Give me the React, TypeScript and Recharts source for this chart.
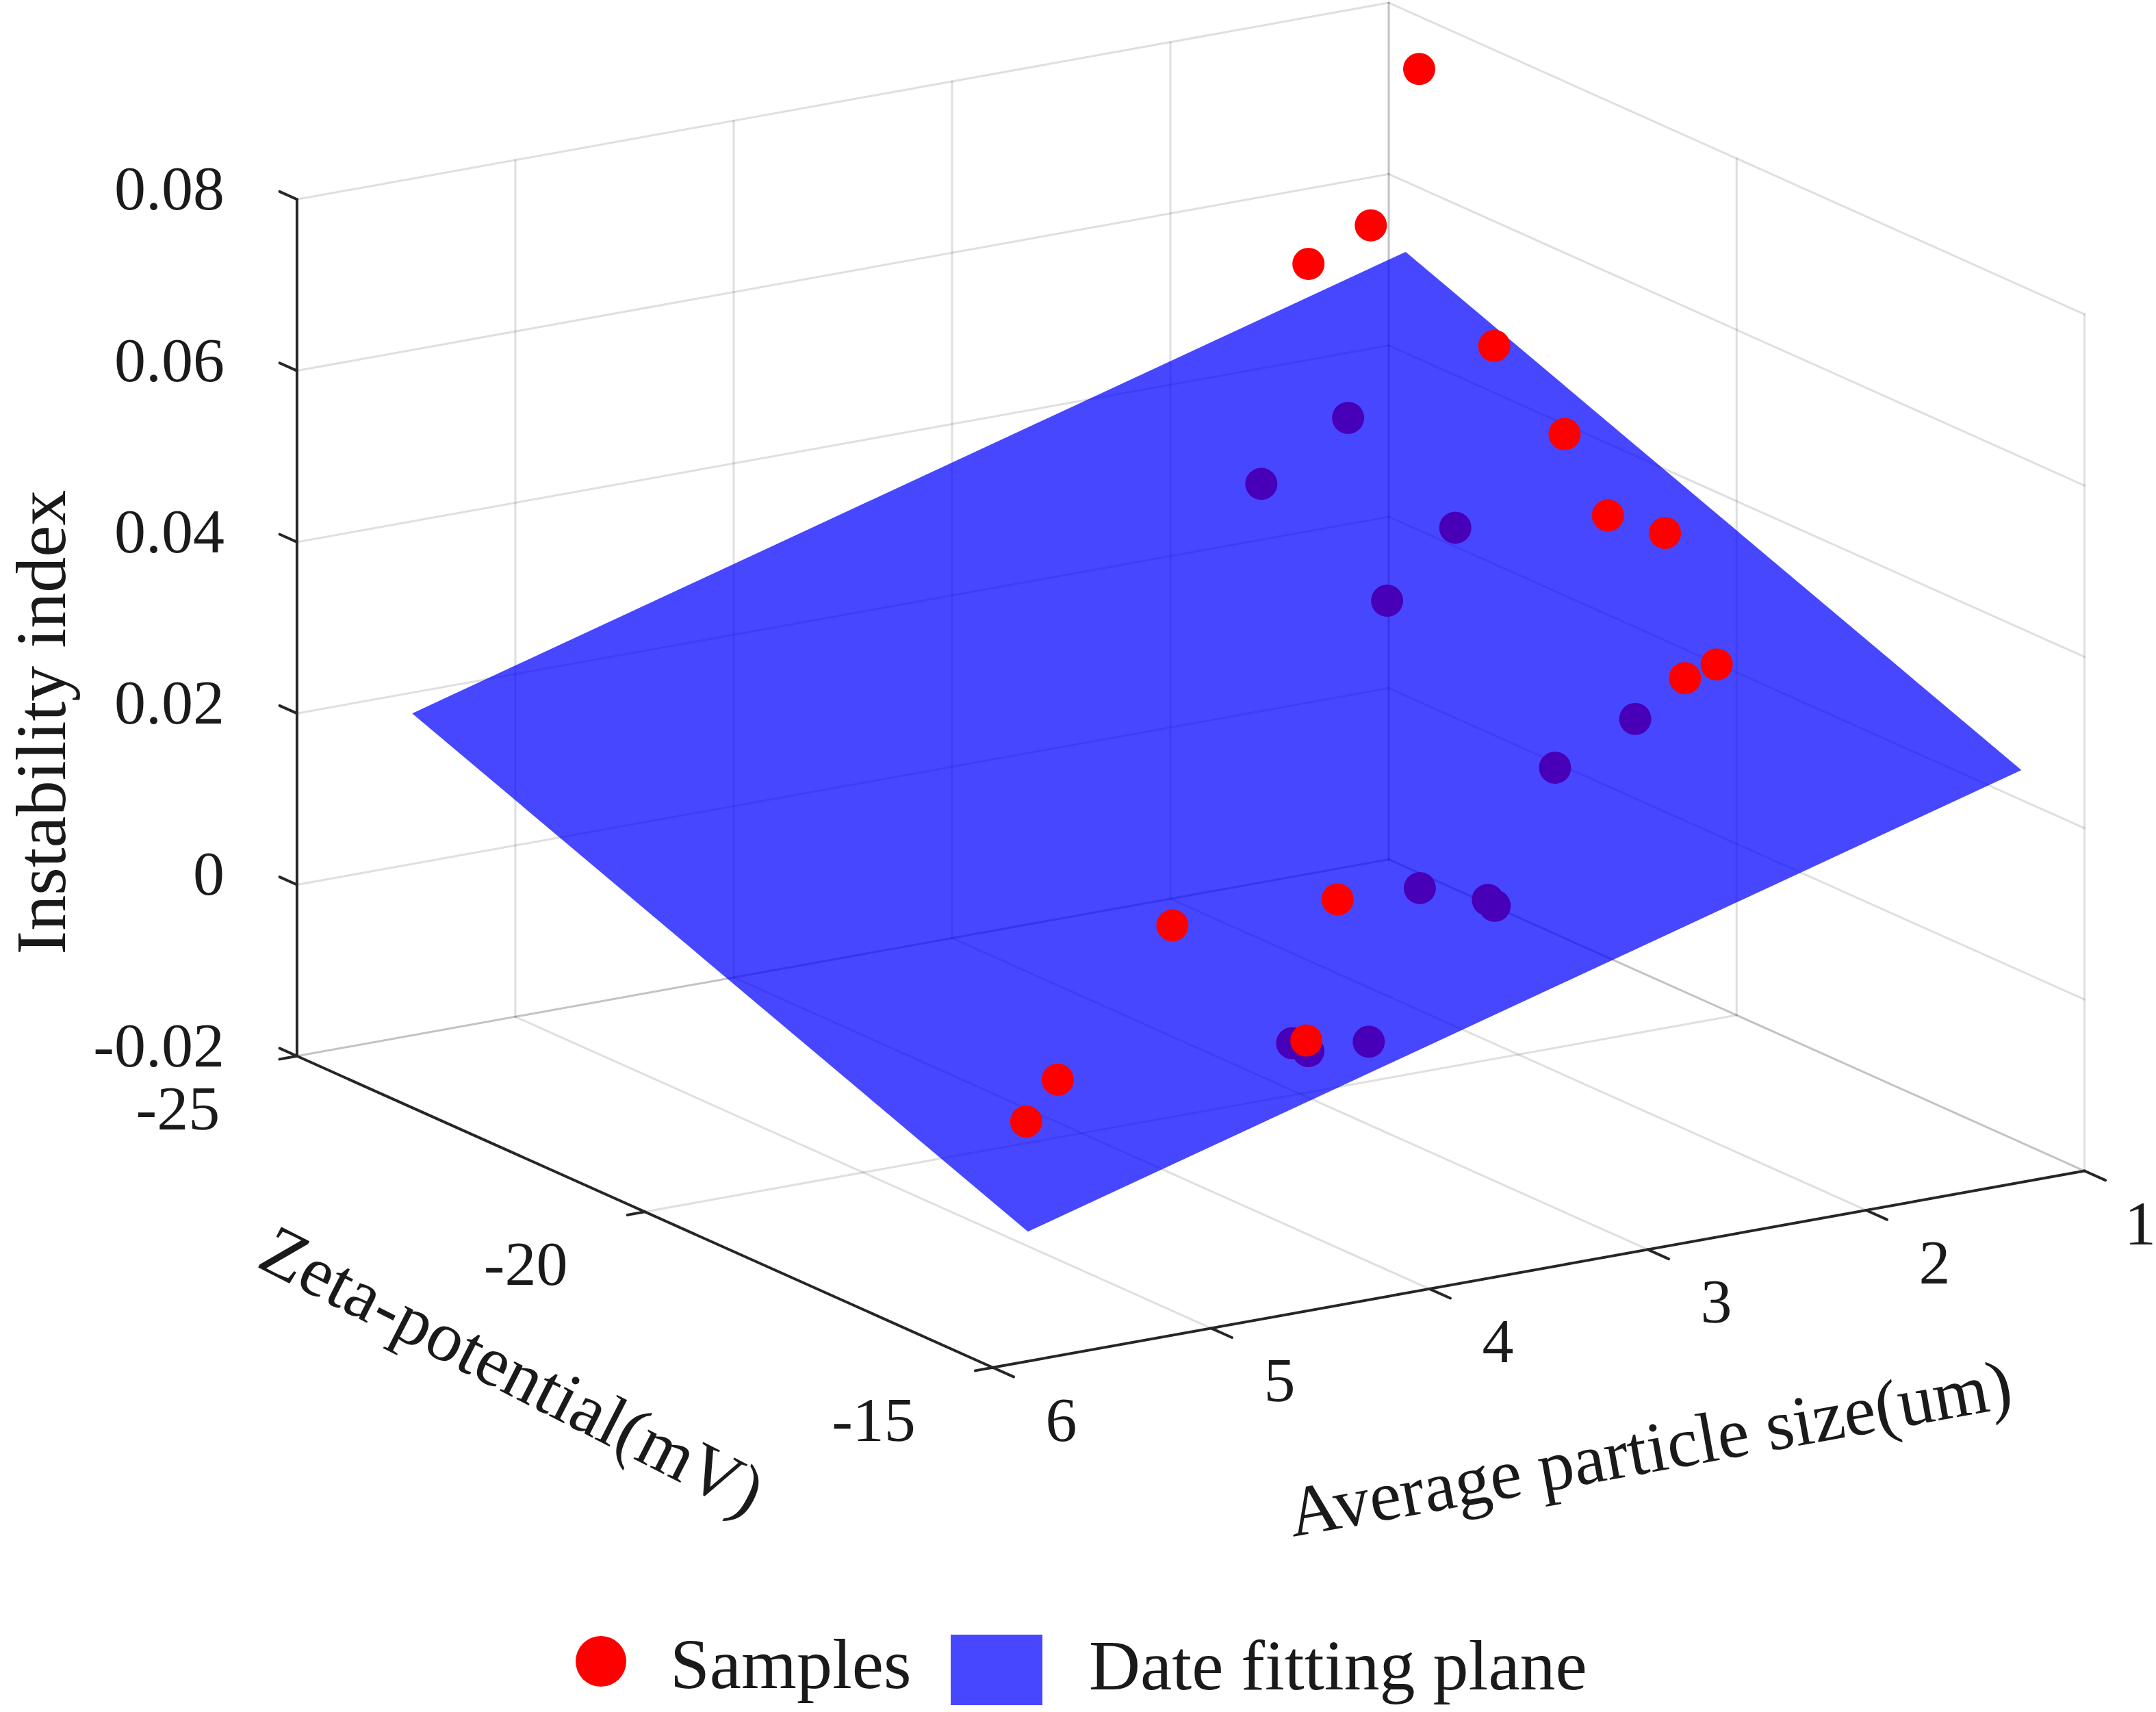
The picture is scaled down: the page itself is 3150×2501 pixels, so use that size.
import React from "react";
import { Legend, Scatter, ScatterChart, XAxis, YAxis } from "recharts";

// samples
const zetaPotential = [
    -24.28, -23.94, -24.02, -22.73, -21.5, -20.28, -19.9, -18.09, -18.2, -17.91, -17.45, -16.89, -16.59,
    -16.33, -23.45, -23.16, -21.69, -21.32, -18.57, -18.53, -17.9, -17.33, -17.42, -16.66, -16.49, -16.28,
];
const particleSize = [
    1.09, 1.42, 1.68, 1.24, 1.31, 1.5, 1.36, 1.7, 1.81, 4.25, 3.64, 5.1, 5.34, 4.14, 1.68, 2.17, 1.75, 2.18,
    1.92, 2.3, 3.12, 2.99, 2.93, 4.1, 4.08, 3.87,
];
const instabilityIndex = [
    0.0753, 0.0598, 0.0562, 0.0493, 0.0438, 0.0396, 0.0383, 0.0311, 0.0296, 0.013, 0.0149, 0.0026, -0.0001,
    0.0048, 0.0403, 0.0359, 0.0342, 0.029, 0.024, 0.0202, 0.0122, 0.0123, 0.011, 0.0031, 0.0027, 0.0036,
];

// fitted plane z = a + b*zeta + c*size, drawn over the sample range
const fitCoef = [-0.0185, -0.0032, -0.00725];
const planeZeta = [-24.6, -15.75];
const planeSize = [1.05, 5.6];

const zetaTicks = [-25, -20, -15];
const sizeTicks = [1, 2, 3, 4, 5, 6];
const zTicks = [-0.02, 0, 0.02, 0.04, 0.06, 0.08];
const zTickLabels = ["-0.02", "0", "0.02", "0.04", "0.06", "0.08"];

const ZETA_LIM = [-25, -15];
const SIZE_LIM = [1, 6];
const Z_LIM = [-0.02, 0.08];

// camera: screen vectors of the three box edges (view units)
const VIEW = {
    origin: [216, 768],
    zeta: [506, 226.5],
    size: [794, -143],
    z: [0, -623],
};
const FRAME = { width: 1568, height: 1245 };

const W = 3150;
const H = 2501;
const FONT = "'Liberation Serif', 'Times New Roman', serif";
const TEXT = "#1a1a1a";
const AXIS = "#262626";
const RED = "#ff0000";
const BLUE = "#0000ff";
const PLANE_ALPHA = 0.72;

type P3 = [number, number, number];

function project(zeta: number, size: number, z: number) {
    const u = (zeta - ZETA_LIM[0]) / (ZETA_LIM[1] - ZETA_LIM[0]);
    const v = (SIZE_LIM[1] - size) / (SIZE_LIM[1] - SIZE_LIM[0]);
    const w = (z - Z_LIM[0]) / (Z_LIM[1] - Z_LIM[0]);
    return {
        px: VIEW.origin[0] + u * VIEW.zeta[0] + v * VIEW.size[0] + w * VIEW.z[0],
        py: VIEW.origin[1] + u * VIEW.zeta[1] + v * VIEW.size[1] + w * VIEW.z[1],
    };
}

const planeAt = (zeta: number, size: number) => fitCoef[0] + fitCoef[1] * zeta + fitCoef[2] * size;

const samples = zetaPotential.map((zeta, i) => ({
    zeta,
    size: particleSize[i],
    value: instabilityIndex[i],
    ...project(zeta, particleSize[i], instabilityIndex[i]),
}));
const underPlane = samples.filter((s) => s.value < planeAt(s.zeta, s.size));
const overPlane = samples.filter((s) => s.value >= planeAt(s.zeta, s.size));

const planeCorners = [
    [planeZeta[0], planeSize[1]],
    [planeZeta[0], planeSize[0]],
    [planeZeta[1], planeSize[0]],
    [planeZeta[1], planeSize[1]],
].map(([zt, sz]) => project(zt, sz, planeAt(zt, sz)));

const [zMin, zMax] = Z_LIM;
const gridSegs: [P3, P3][] = [
    ...zetaTicks.map((t) => [[t, 6, zMin], [t, 1, zMin]] as [P3, P3]),
    ...sizeTicks.map((s) => [[-25, s, zMin], [-15, s, zMin]] as [P3, P3]),
    ...sizeTicks.map((s) => [[-25, s, zMin], [-25, s, zMax]] as [P3, P3]),
    ...zTicks.map((z) => [[-25, 6, z], [-25, 1, z]] as [P3, P3]),
    ...zetaTicks.map((t) => [[t, 1, zMin], [t, 1, zMax]] as [P3, P3]),
    ...zTicks.map((z) => [[-25, 1, z], [-15, 1, z]] as [P3, P3]),
];
const axisSegs: [P3, P3][] = [
    [[-25, 6, zMin], [-25, 6, zMax]],
    [[-25, 6, zMin], [-15, 6, zMin]],
    [[-15, 6, zMin], [-15, 1, zMin]],
    ...zTicks.map((z) => [[-25, 6, z], [-25.25, 6, z]] as [P3, P3]),
    ...zetaTicks.map((t) => [[t, 6, zMin], [t, 6.08, zMin]] as [P3, P3]),
    ...sizeTicks.map((s) => [[-15, s, zMin], [-14.7, s, zMin]] as [P3, P3]),
];
const toPoints = (segs: [P3, P3][]) => segs.flatMap(([a, b]) => [project(...a), project(...b)]);

const zLabelData = zTicks.map((z, i) => ({ ...project(-25, 6, z), text: zTickLabels[i] }));
const zetaLabelData = zetaTicks.map((t) => ({ ...project(t, 6, zMin), text: String(t) }));
const sizeLabelData = sizeTicks.map((s) => ({ ...project(-15, s, zMin), text: String(s) }));

const zTitle = [{ ...project(-25, 6, 0.03), text: "Instability index" }];
const zetaTitle = [{ ...project(-20, 6, zMin), text: "Zeta-potential(mV)" }];
const sizeTitle = [{ ...project(-15, 3.5, zMin), text: "Average particle size(um)" }];

const hidden = () => <g />;

const segmentLine = (stroke: string, width: number, opacity = 1) => (props: any) => {
    const pts = props.points || [];
    const out = [];
    for (let i = 0; i + 1 < pts.length; i += 2) {
        out.push(
            <line
                key={i}
                x1={pts[i].x}
                y1={pts[i].y}
                x2={pts[i + 1].x}
                y2={pts[i + 1].y}
                stroke={stroke}
                strokeOpacity={opacity}
                strokeWidth={width}
                strokeLinecap="round"
            />
        );
    }
    return <g>{out}</g>;
};

const planeShape = (props: any) => {
    const pts = props.points || [];
    return <polygon points={pts.map((p: any) => `${p.x},${p.y}`).join(" ")} fill={BLUE} fillOpacity={PLANE_ALPHA} stroke="none" />;
};

const dot = (props: any) => <circle cx={props.cx} cy={props.cy} r={23.5} fill={RED} />;

const label =
    (dx: number, dy: number, anchor: "start" | "middle" | "end", size: number, rotate = 0) =>
    (props: any) => {
        const text = String(props.payload.text);
        let x = props.cx + dx;
        if (!rotate && anchor === "middle") {
            // keep short tick labels inside the picture
            const half = text.length * 0.25 * size;
            x = Math.min(x, W - half);
        }
        const y = props.cy + dy;
        return (
            <text
                x={x}
                y={y}
                textAnchor={anchor}
                dominantBaseline="central"
                fontFamily={FONT}
                fontSize={size}
                fill={TEXT}
                transform={rotate ? `rotate(${rotate}, ${x}, ${y})` : undefined}
            >
                {text}
            </text>
        );
    };

const LegendBox = () => (
    <svg width={W} height={171} style={{ display: "block" }}>
        <circle cx={878} cy={97} r={37} fill={RED} />
        <text x={979} y={136} fontFamily={FONT} fontSize={104} fill={TEXT}>
            Samples
        </text>
        <rect x={1389} y={58} width={134} height={103} fill={BLUE} fillOpacity={PLANE_ALPHA} />
        <text x={1591} y={138} fontFamily={FONT} fontSize={104} fill={TEXT}>
            Date fitting plane
        </text>
    </svg>
);

export default function App() {
    return (
        <div style={{ position: "absolute", left: 0, top: 0, width: W, height: H, background: "#fff" }}>
            <ScatterChart width={W} height={H} margin={{ top: 0, right: 0, bottom: 0, left: 0 }}>
                <XAxis type="number" dataKey="px" domain={[0, FRAME.width]} hide />
                <YAxis type="number" dataKey="py" domain={[0, FRAME.height]} reversed hide />
                <Legend
                    layout="horizontal"
                    verticalAlign="middle"
                    align="center"
                    content={() => <LegendBox />}
                    wrapperStyle={{ left: 0, top: 2330, width: W, height: 171 }}
                />
                <Scatter data={toPoints(gridSegs)} shape={hidden} line={segmentLine(AXIS, 3, 0.15)} isAnimationActive={false} />
                <Scatter data={underPlane} shape={dot} isAnimationActive={false} />
                <Scatter data={planeCorners} shape={hidden} line={planeShape} isAnimationActive={false} />
                <Scatter data={toPoints(axisSegs)} shape={hidden} line={segmentLine(AXIS, 4)} isAnimationActive={false} />
                <Scatter data={overPlane} shape={dot} isAnimationActive={false} />
                <Scatter data={zLabelData} shape={label(-106, -16, "end", 92)} isAnimationActive={false} />
                <Scatter data={zetaLabelData} shape={label(-174, 76, "middle", 92)} isAnimationActive={false} />
                <Scatter data={sizeLabelData} shape={label(100, 76, "middle", 92)} isAnimationActive={false} />
                <Scatter data={zTitle} shape={label(-374, 138, "middle", 104, -90)} isAnimationActive={false} />
                <Scatter data={zetaTitle} shape={label(-193, 231, "middle", 104, 27)} isAnimationActive={false} />
                <Scatter data={sizeTitle} shape={label(162, 261, "middle", 104, -10.2)} isAnimationActive={false} />
            </ScatterChart>
        </div>
    );
}
